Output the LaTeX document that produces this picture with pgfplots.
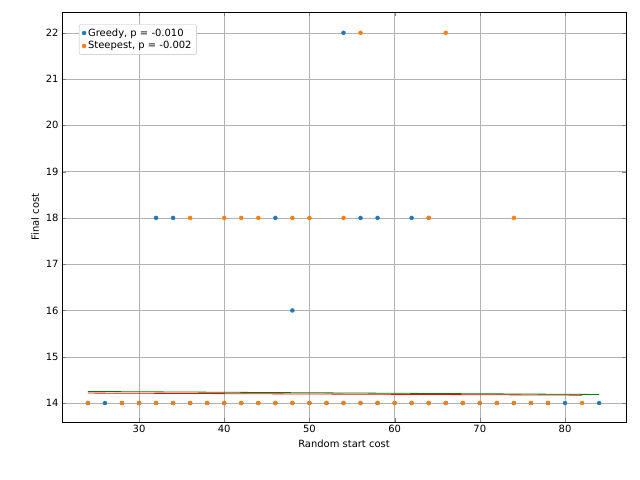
\documentclass[border=0pt]{standalone}
\usepackage{pgfplots}
\pgfplotsset{compat=1.18}
\usepackage{fontspec}
\setmainfont{DejaVu Sans}
\definecolor{tblue}{HTML}{1F77B4}
\definecolor{torange}{HTML}{FF7F0E}
\begin{document}
\begin{tikzpicture}[x=1bp,y=1bp,font=\fontsize{10}{12}\selectfont]
\useasboundingbox (0,0) rectangle (640,480);
\begin{axis}[at={(62bp,58bp)},anchor=south west,scale only axis,width=564bp,height=410bp,
 xmin=20.96,xmax=87.16,ymin=13.59,ymax=22.45,
 xtick={30,40,...,80},ytick={14,...,22},grid=major,grid style={gray!60},
 tick label style={font=\fontsize{10}{12}\selectfont},
 label style={font=\fontsize{10}{12}\selectfont},
 /pgf/number format/assume math mode=true,
 xlabel={Random start cost},ylabel={Final cost},
 legend pos=north west,legend cell align=left,
 legend style={font=\fontsize{10}{12}\selectfont,draw=gray!50,rounded corners=2pt}]
\addplot[only marks,mark=*,mark size=2,tblue] coordinates {
(24,14)(26,14)(28,14)(30,14)(32,14)(34,14)(36,14)(38,14)(40,14)(42,14)(44,14)(46,14)(48,14)(50,14)(52,14)(54,14)(56,14)(58,14)(60,14)(62,14)(64,14)(66,14)(68,14)(70,14)(72,14)(74,14)(76,14)(78,14)(80,14)(84,14)
(32,18)(34,18)(46,18)(56,18)(58,18)(62,18)(64,18)(48,16)(54,22)};
\addlegendentry{Greedy, p = -0.010}
\addplot[only marks,mark=*,mark size=2,torange] coordinates {
(24,14)(28,14)(30,14)(32,14)(34,14)(36,14)(38,14)(40,14)(42,14)(44,14)(46,14)(48,14)(50,14)(52,14)(54,14)(56,14)(58,14)(60,14)(62,14)(64,14)(66,14)(68,14)(70,14)(72,14)(74,14)(76,14)(78,14)(82,14)
(36,18)(40,18)(42,18)(44,18)(48,18)(50,18)(54,18)(64,18)(74,18)(56,22)(66,22)};
\addlegendentry{Steepest, p = -0.002}
\addplot[red,thick,forget plot] coordinates {(24,14.215)(82,14.17)};
\addplot[green!50!black,thick,forget plot] coordinates {(24,14.25)(84,14.185)};
\end{axis}
\end{tikzpicture}
\end{document}
